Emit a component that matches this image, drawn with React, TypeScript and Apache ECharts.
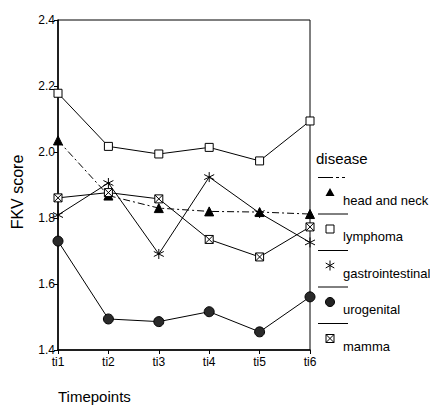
import React, { useEffect, useRef } from "react";
import * as echarts from "echarts";

const categories = ["ti1", "ti2", "ti3", "ti4", "ti5", "ti6"];
const headNeck = [2.035, 1.868, 1.83, 1.82, 1.818, 1.812];
const lymphoma = [2.178, 2.017, 1.994, 2.014, 1.973, 2.094];
const gastro = [1.809, 1.906, 1.691, 1.924, 1.815, 1.726];
const urogenital = [1.73, 1.494, 1.486, 1.516, 1.455, 1.561];
const mamma = [1.861, 1.877, 1.858, 1.735, 1.682, 1.773];
const seriesNames = ["head and neck", "lymphoma", "gastrointestinal", "urogenital", "mamma"];
const legendTitle = "disease";
const xTitle = "Timepoints";
const yTitle = "FKV score";

const FONT = "'Liberation Sans', Arial, sans-serif";
const ASTERISK = "path://M5,0L5,10M0.67,2.5L9.33,7.5M0.67,7.5L9.33,2.5";
const MAMMA = "path://M0,0L10,0L10,10L0,10ZM0,0L10,10M10,0L0,10";

function legendMarker(i: number, cx: number, cy: number): any {
  const s = { stroke: "#000", lineWidth: 1 };
  if (i === 0)
    return { type: "polygon", shape: { points: [[cx, cy - 4.5], [cx + 4.5, cy + 3.5], [cx - 4.5, cy + 3.5]] }, style: { fill: "#000" } };
  if (i === 1)
    return { type: "rect", shape: { x: cx - 4, y: cy - 4, width: 8, height: 8 }, style: { fill: "#fff", ...s } };
  if (i === 2)
    return {
      type: "group",
      children: [
        { type: "line", shape: { x1: cx, y1: cy - 5, x2: cx, y2: cy + 5 }, style: s },
        { type: "line", shape: { x1: cx - 4.3, y1: cy - 2.5, x2: cx + 4.3, y2: cy + 2.5 }, style: s },
        { type: "line", shape: { x1: cx - 4.3, y1: cy + 2.5, x2: cx + 4.3, y2: cy - 2.5 }, style: s },
      ],
    };
  if (i === 3)
    return { type: "circle", shape: { cx, cy, r: 4.5 }, style: { fill: "#222", stroke: "#000", lineWidth: 1 } };
  return {
    type: "group",
    children: [
      { type: "rect", shape: { x: cx - 4, y: cy - 4, width: 8, height: 8 }, style: { fill: "#fff", ...s } },
      { type: "line", shape: { x1: cx - 4, y1: cy - 4, x2: cx + 4, y2: cy + 4 }, style: s },
      { type: "line", shape: { x1: cx + 4, y1: cy - 4, x2: cx - 4, y2: cy + 4 }, style: s },
    ],
  };
}

export default function App() {
  const ref = useRef<HTMLDivElement>(null);
  useEffect(() => {
    const chart = echarts.init(ref.current!, null, { renderer: "svg" });
    const dataArr = [headNeck, lymphoma, gastro, urogenital, mamma];
    const symbols = ["triangle", "rect", ASTERISK, "circle", MAMMA];
    const sizes = [9, 8, 10, 10, 8];
    const fills = ["#000", "#fff", "#000", "#2a2a2a", "#fff"];
    const series = seriesNames.map((name, i) => ({
      name,
      type: "line",
      data: dataArr[i],
      symbol: symbols[i],
      symbolSize: sizes[i],
      showAllSymbol: true,
      lineStyle: { color: "#000", width: 1, type: i === 0 ? [7, 3, 2, 3] : "solid" },
      itemStyle: { color: fills[i], borderColor: "#000", borderWidth: 1 },
      z: 3,
    }));

    const graphics: any[] = [
      { type: "text", x: 316, y: 158, style: { text: legendTitle, fontSize: 15, fontFamily: FONT, fill: "#000", verticalAlign: "middle" } },
    ];
    seriesNames.forEach((name, i) => {
      const ly = 177.5 + i * 36.5;
      const my = ly + 15;
      if (i === 0) {
        graphics.push({ type: "line", shape: { x1: 318, y1: ly, x2: 333, y2: ly }, style: { stroke: "#000", lineWidth: 1 } });
        graphics.push({ type: "line", shape: { x1: 336, y1: ly, x2: 348, y2: ly }, style: { stroke: "#000", lineWidth: 1, lineDash: [3, 3] } });
      } else {
        graphics.push({ type: "line", shape: { x1: 318, y1: ly, x2: 348, y2: ly }, style: { stroke: "#000", lineWidth: 1 } });
      }
      graphics.push(legendMarker(i, 330, my));
      graphics.push({
        type: "text",
        x: 343,
        y: my + 7.5,
        style: { text: name, fontSize: 13, fontFamily: FONT, fill: "#000", verticalAlign: "middle" },
      });
    });
    graphics.push({
      type: "text",
      x: 17,
      y: 192,
      rotation: Math.PI / 2,
      style: { text: yTitle, fontSize: 16, fontFamily: FONT, fill: "#000", align: "center", verticalAlign: "middle" },
    });
    graphics.push({
      type: "text",
      x: 58,
      y: 396,
      style: { text: xTitle, fontSize: 15, fontFamily: FONT, fill: "#000", verticalAlign: "middle" },
    });

    chart.setOption({
      animation: false,
      backgroundColor: "#fff",
      grid: { left: 58, right: 120, top: 20, bottom: 61, show: true, borderColor: "#000", borderWidth: 1, backgroundColor: "transparent" },
      xAxis: {
        type: "category",
        data: categories,
        boundaryGap: false,
        axisLine: { lineStyle: { color: "#000", width: 1.5 } },
        axisTick: { show: true, length: 4, lineStyle: { color: "#000" } },
        axisLabel: { color: "#000", fontSize: 12, fontFamily: FONT, margin: 6 },
        splitLine: { show: false },
      },
      yAxis: {
        type: "value",
        min: 1.4,
        max: 2.4,
        interval: 0.2,
        axisLine: { show: true, lineStyle: { color: "#000", width: 1.5 } },
        axisTick: { show: true, length: 4, lineStyle: { color: "#000" } },
        axisLabel: { color: "#000", fontSize: 12, fontFamily: FONT, margin: 3, formatter: (v: number) => v.toFixed(1) },
        splitLine: { show: false },
      },
      series,
      graphic: graphics,
    });
    return () => chart.dispose();
  }, []);
  return <div ref={ref} style={{ width: 430, height: 411, position: "absolute", left: 0, top: 0 }} />;
}
